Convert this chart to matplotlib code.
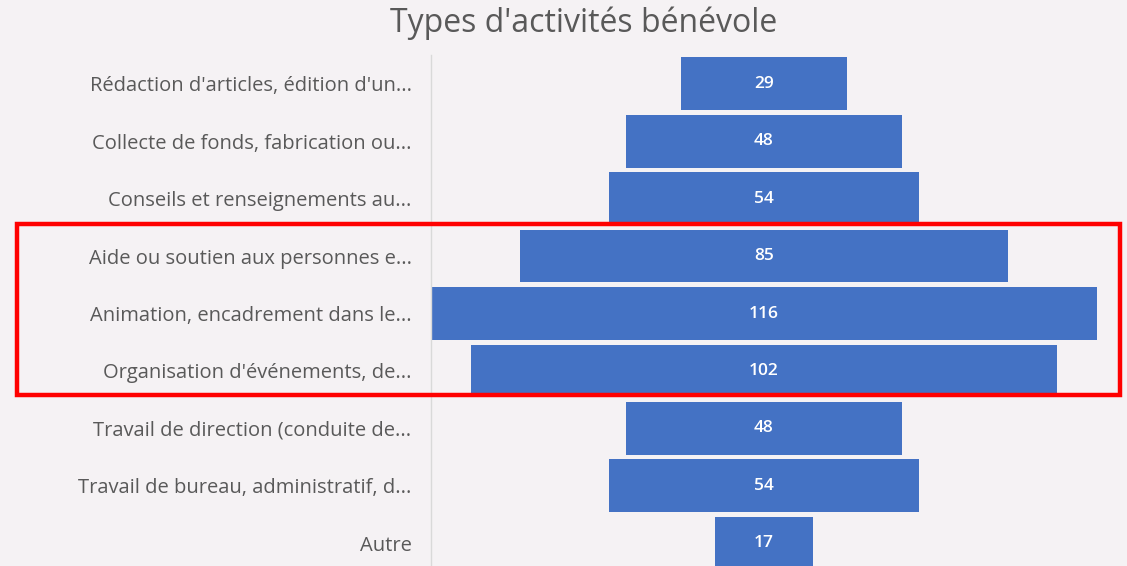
import matplotlib
matplotlib.use("Agg")
import matplotlib.pyplot as plt
from matplotlib.patches import Rectangle

categories = [
    "Rédaction d'articles, édition d'un...",
    "Collecte de fonds, fabrication ou...",
    "Conseils et renseignements au...",
    "Aide ou soutien aux personnes e...",
    "Animation, encadrement dans le...",
    "Organisation d'événements, de...",
    "Travail de direction (conduite de...",
    "Travail de bureau, administratif, d...",
    "Autre",
]
values = [29, 48, 54, 85, 116, 102, 48, 54, 17]
title = "Types d'activités bénévole"

bg = "#f5f2f4"
bar_color = "#4472c4"
text_gray = "#595959"

fig = plt.figure(figsize=(11.27, 5.66), dpi=100, facecolor=bg)
ax = fig.add_axes([431 / 1127, 1 - 572 / 566, 666 / 1127, 517 / 566])
ax.set_facecolor(bg)

n = len(values)
ypos = list(range(n))
lefts = [-v / 2 for v in values]
ax.barh(ypos, values, left=lefts, height=0.92, color=bar_color)
for y, v in zip(ypos, values):
    ax.text(0, y, str(v), ha="center", va="center", color="white",
            fontsize=12.5, fontweight="semibold", family="Open Sans")

vmax = max(values)
ax.set_xlim(-vmax / 2, vmax / 2)
ax.set_ylim(n - 0.5, -0.5)
ax.set_yticks(ypos)
ax.set_yticklabels(categories, family="Open Sans", fontsize=14.5, color=text_gray)
ax.tick_params(axis="y", length=0, pad=14)
ax.set_xticks([])
for s in ["top", "right", "bottom"]:
    ax.spines[s].set_visible(False)
ax.spines["left"].set_color("#d9d9d9")
ax.spines["left"].set_linewidth(1)

fig.text(584 / 1127, 1 - 23 / 566, title, ha="center", va="center",
         fontsize=23, color=text_gray, family="Open Sans")

rect = Rectangle((17 / 1127, 1 - 395 / 566), (1120 - 17) / 1127, (395 - 224) / 566,
                 transform=fig.transFigure, fill=False, edgecolor="#ff0000",
                 linewidth=3.2, zorder=10)
fig.patches.append(rect)

fig.savefig("out.png", dpi=100, facecolor=bg)
